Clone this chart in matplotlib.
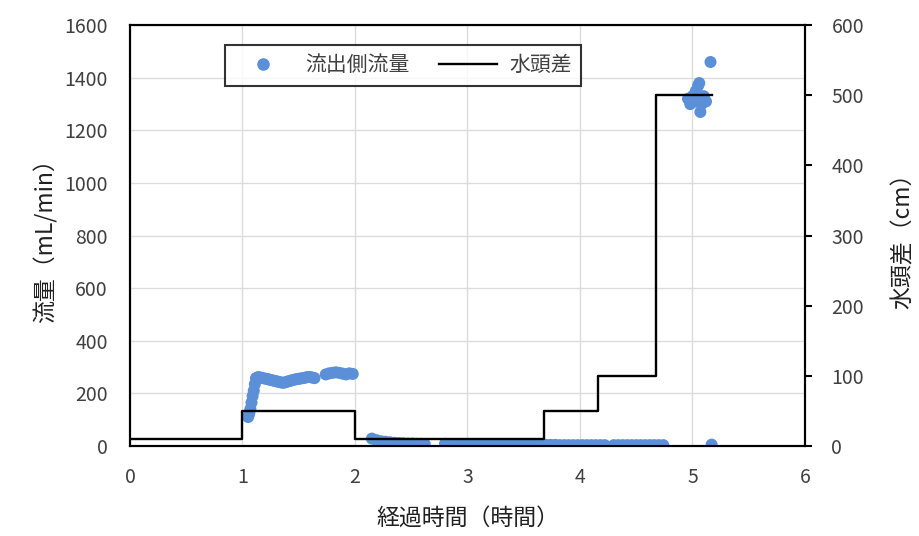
import matplotlib
matplotlib.use("Agg")
import matplotlib.pyplot as plt
from matplotlib.lines import Line2D

plt.rcParams['font.family'] = ['Noto Sans CJK JP', 'DejaVu Sans']

# 流出側流量 (mL/min) -- clusters
t_a = [1.05, 1.06, 1.07, 1.08, 1.09, 1.10, 1.11]
q_a = [110, 122, 140, 165, 190, 210, 235]
t_b = [1.12, 1.14, 1.16, 1.18, 1.20, 1.22, 1.24, 1.26, 1.28, 1.30, 1.32, 1.34,
       1.36, 1.38, 1.40, 1.42, 1.44, 1.46, 1.48, 1.50, 1.52, 1.54, 1.56, 1.58,
       1.60, 1.62, 1.64]
q_b = [258, 262, 260, 258, 256, 255, 252, 250, 248, 246, 244, 242,
       240, 242, 245, 247, 250, 252, 254, 255, 257, 258, 260, 262,
       262, 260, 258]
t_c = [1.74, 1.77, 1.80, 1.83, 1.86, 1.89, 1.92, 1.95, 1.98]
q_c = [272, 276, 278, 280, 278, 275, 272, 276, 274]
t_d = [2.15, 2.19, 2.23, 2.27, 2.31, 2.35, 2.39, 2.43, 2.47, 2.51, 2.55, 2.59, 2.62]
q_d = [28, 22, 18, 16, 14, 12, 11, 10, 9, 9, 8, 8, 7]
t_e = [2.80, 2.84, 2.88, 2.92, 2.96, 3.00, 3.04, 3.08, 3.12, 3.16, 3.20, 3.24,
       3.28, 3.32, 3.36, 3.40, 3.44, 3.48, 3.52, 3.56, 3.60, 3.64]
q_e = [8, 7, 6, 6, 5, 5, 5, 4, 4, 4, 4, 3, 3, 3, 3, 3, 3, 2, 2, 2, 2, 2]
t_f = [3.70, 3.74, 3.78, 3.82, 3.86, 3.90, 3.94, 3.98, 4.02, 4.06, 4.10, 4.14, 4.18, 4.22]
q_f = [4, 4, 4, 3, 3, 3, 3, 3, 3, 3, 3, 3, 3, 3]
t_g = [4.30, 4.34, 4.38, 4.42, 4.46, 4.50, 4.54, 4.58, 4.62, 4.66, 4.70, 4.74]
q_g = [3, 3, 3, 3, 3, 3, 3, 3, 3, 3, 3, 3]
t_h = [4.96, 4.98, 5.00, 5.02, 5.03, 5.04, 5.05, 5.06, 5.07, 5.08, 5.10, 5.12, 5.16, 5.17]
q_h = [1320, 1300, 1330, 1310, 1350, 1340, 1370, 1380, 1270, 1300, 1330, 1310, 1460, 5]

t_flow = t_a + t_b + t_c + t_d + t_e + t_f + t_g + t_h
q_flow = q_a + q_b + q_c + q_d + q_e + q_f + q_g + q_h

# 水頭差 (cm), step changes
t_head = [0, 1.0, 2.0, 3.68, 4.16, 4.68, 5.17]
h_head = [10, 50, 10, 50, 100, 500, 500]

blue = '#5b8fd8'
grey = '#404040'

fig = plt.figure(figsize=(9.2, 5.36), dpi=100)
ax = fig.add_axes([0.1413, 0.168, 0.7337, 0.785])
ax2 = ax.twinx()

ax.scatter(t_flow, q_flow, s=75, color=blue, edgecolors='none', zorder=3)
ax2.step(t_head, h_head, where='post', color='black', lw=1.7, zorder=4)

ax.set_xlim(0, 6)
ax.set_ylim(0, 1600)
ax2.set_ylim(0, 600)
ax.set_yticks(range(0, 1601, 200))
ax2.set_yticks(range(0, 601, 100))
ax.set_xticks(range(0, 7))

ax.grid(True, color='#dcdcdc', lw=1)
ax.set_axisbelow(True)
ax.tick_params(axis='y', length=0, labelsize=14, labelcolor=grey, pad=16)
ax.tick_params(axis='x', length=0, labelsize=14, labelcolor=grey, pad=15)
ax2.tick_params(axis='y', length=5, width=1.5, direction='out', labelsize=14,
                labelcolor=grey, pad=14)

for a in (ax, ax2):
    for s in a.spines.values():
        s.set_color('black')
        s.set_linewidth(1.5)

ax.set_xlabel('経過時間（時間）', fontsize=16.5, color='#202020', labelpad=14)
ax.set_ylabel('流量（mL/min）', fontsize=16.5, color='#202020', labelpad=5)
ax2.set_ylabel('水頭差（cm）', fontsize=16.5, color='#202020', labelpad=20)

handles = [Line2D([], [], marker='o', ls='none', color=blue, markersize=8),
           Line2D([], [], color='black', lw=1.7)]
leg = ax2.legend(handles, ['流出側流量', '水頭差'], ncol=2, loc='upper left',
                 bbox_to_anchor=(0.125, 0.978), fontsize=15, frameon=True,
                 fancybox=False, edgecolor='black', borderpad=0.45,
                 columnspacing=1.4, handlelength=2.8, handletextpad=0.6)
leg.get_frame().set_linewidth(1.5)
for txt in leg.get_texts():
    txt.set_color(grey)

fig.savefig('out.png', dpi=100)
